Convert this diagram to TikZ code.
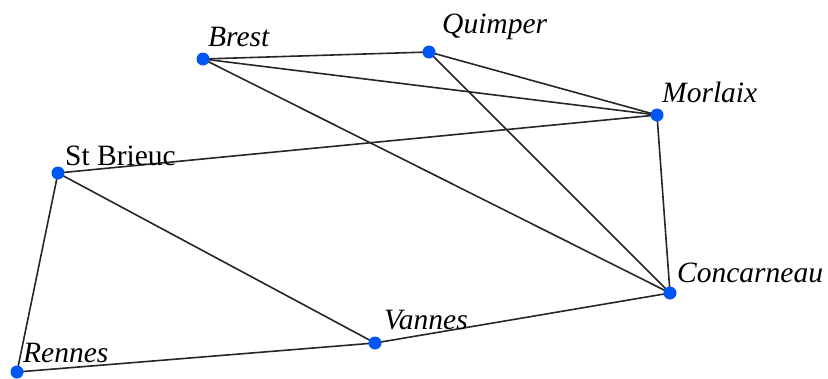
\documentclass[tikz,border=0pt]{standalone}
\usepackage{fontspec}
\setmainfont{Liberation Serif}
\begin{document}
\begin{tikzpicture}[x=1pt,y=-1pt,
  city/.style={circle,fill={rgb,255:red,0;green,85;blue,245},inner sep=0pt,minimum size=13pt},
  lbl/.style={anchor=base west,inner sep=0pt,font=\fontsize{29.5}{32}\selectfont\itshape},
  lblup/.style={anchor=base west,inner sep=0pt,font=\fontsize{29.5}{32}\selectfont},
  edge/.style={draw,line width=1.6pt,black!85}]
\useasboundingbox (0,0) rectangle (828,378);
\coordinate (brest) at (203,59);
\coordinate (quimper) at (429,52);
\coordinate (morlaix) at (657,115);
\coordinate (stbrieuc) at (58,173);
\coordinate (concarneau) at (670,293);
\coordinate (vannes) at (375,343);
\coordinate (rennes) at (17,372);
\path[edge] (brest) -- (quimper);
\path[edge] (brest) -- (morlaix);
\path[edge] (brest) -- (concarneau);
\path[edge] (quimper) -- (morlaix);
\path[edge] (quimper) -- (concarneau);
\path[edge] (morlaix) -- (concarneau);
\path[edge] (morlaix) -- (stbrieuc);
\path[edge] (stbrieuc) -- (vannes);
\path[edge] (stbrieuc) -- (rennes);
\path[edge] (rennes) -- (vannes);
\path[edge] (vannes) -- (concarneau);
\foreach \c in {brest,quimper,morlaix,stbrieuc,concarneau,vannes,rennes}
  \node[city] (d\c) at (\c) {};
\node[lbl] (tbrest) at (208,46) {Brest};
\node[lbl] (tquimper) at (442,33) {Quimper};
\node[lbl] (tmorlaix) at (662,102) {Morlaix};
\node[lblup] (tstbrieuc) at (65,165) {St Brieuc};
\node[lbl] (trennes) at (23,362) {Rennes};
\node[lbl] (tvannes) at (384,329) {Vannes};
\node[lbl] (tconcarneau) at (677,282) {Concarneau};
\end{tikzpicture}
\end{document}
